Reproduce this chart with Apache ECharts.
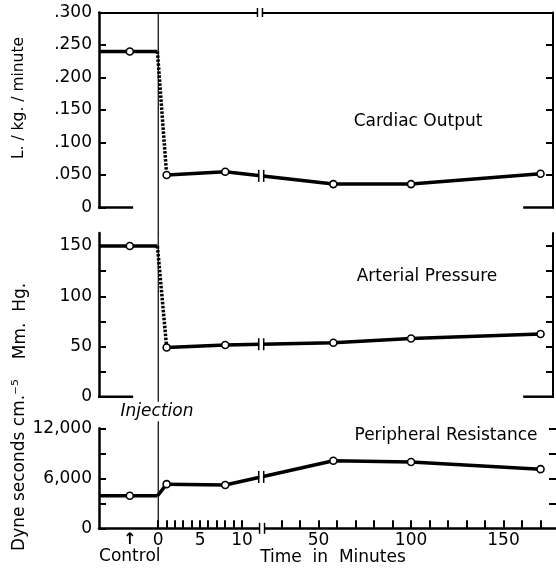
<!DOCTYPE html>
<html>
<head>
<meta charset="utf-8">
<title>Cardiac output, arterial pressure and peripheral resistance</title>
<script src="https://cdn.jsdelivr.net/npm/echarts@6.0.0/dist/echarts.min.js"></script>
<style>
    html, body { margin: 0; padding: 0; background: #fff; }
    #chart { width: 556px; height: 572px; }
</style>
</head>
<body>
<div id="chart"></div>
<script>
'use strict';

//============= data =============
const times = [1, 8, 58, 100, 170]; // minutes after injection
const cardiacControl = 0.240;
const cardiacOutput = [0.050, 0.055, 0.036, 0.036, 0.052];
const arterialControl = 150;
const arterialPressure = [49, 51.5, 53.7, 58, 62.4];
const resistanceControl = 3900;
const peripheralResistance = [5300, 5200, 8100, 7950, 7100];

const cardiacTicks = [0, 0.05, 0.1, 0.15, 0.2, 0.25, 0.3];
const pressureTicks = [0, 25, 50, 75, 100, 125, 150];
const pressureLabels = [0, 50, 100, 150];
const resistanceTicks = [0, 3000, 6000, 9000, 12000];
const resistanceLabels = [0, 6000, 12000];
const timeTicks = [0, 1, 2, 3, 4, 5, 6, 7, 8, 9, 10,
    30, 40, 50, 60, 70, 80, 90, 100, 110, 120, 130, 140, 150, 160, 170];
const timeLabels = [0, 5, 10, 50, 100, 150];

//============= broken time axis =============
// early part 1 unit = 1 min, after the break the scale is squeezed
const EARLY_END = 12.3,
    LATE_START = 19,
    LATE_RATIO = 0.221;

function toAxis(t) {
    return t <= EARLY_END ? t : EARLY_END + (t - LATE_START) * LATE_RATIO;
}

function fromAxis(u) {
    return u <= EARLY_END + 1e-9 ? u : LATE_START + (u - EARLY_END) / LATE_RATIO;
}

// layout
const LEFT = 99,
    PX_PER_UNIT = 8.37,
    X_MIN = -7.08,
    CONTROL_X = -3.4,
    CONTROL_END = -0.1,
    STUB_LEFT_END = -3.0,
    STUB_RIGHT_START = 43.6;

function xMax(width) {
    return X_MIN + width / PX_PER_UNIT;
}

const FONT = 'DejaVu Sans';
const black = '#000';

// value of a line where it crosses the axis break
function valueAtBreak(values) {
    for (let k = 0; k < times.length - 1; k++) {
        let u1 = toAxis(times[k]),
            u2 = toAxis(times[k + 1]);
        if (u1 <= EARLY_END && u2 > EARLY_END) {
            return values[k] + (values[k + 1] - values[k]) * (EARLY_END - u1) / (u2 - u1);
        }
    }
    return values[0];
}

function breakMark(gridIdx, point, h) {
    return {
        type: 'custom',
        xAxisIndex: gridIdx,
        yAxisIndex: gridIdx * 2,
        z: 10,
        silent: true,
        data: [point],
        renderItem: function(params, api) {
            let p = api.coord([api.value(0), api.value(1)]);
            return {
                type: 'group',
                children: [{
                    type: 'rect',
                    shape: { x: p[0] - 2, y: p[1] - h / 2 + 1, width: 4, height: h - 2 },
                    style: { fill: '#fff' }
                }, {
                    type: 'line',
                    shape: { x1: p[0] - 2.5, y1: p[1] - h / 2, x2: p[0] - 2.5, y2: p[1] + h / 2 },
                    style: { stroke: black, lineWidth: 1.5 }
                }, {
                    type: 'line',
                    shape: { x1: p[0] + 2.5, y1: p[1] - h / 2, x2: p[0] + 2.5, y2: p[1] + h / 2 },
                    style: { stroke: black, lineWidth: 1.5 }
                }]
            };
        }
    };
}

// short bits of the zero line at both ends of the upper panels
function zeroStubs(gridIdx, maxX) {
    return {
        type: 'custom',
        xAxisIndex: gridIdx,
        yAxisIndex: gridIdx * 2,
        silent: true,
        data: [[X_MIN, 0]],
        renderItem: function(params, api) {
            let a = api.coord([X_MIN, 0]),
                b = api.coord([STUB_LEFT_END, 0]),
                c = api.coord([STUB_RIGHT_START, 0]),
                d = api.coord([maxX, 0]);
            return {
                type: 'group',
                children: [{
                    type: 'line',
                    shape: { x1: a[0] - 1, y1: a[1], x2: b[0], y2: b[1] },
                    style: { stroke: black, lineWidth: 2.5 }
                }, {
                    type: 'line',
                    shape: { x1: c[0], y1: c[1], x2: d[0] + 1, y2: d[1] },
                    style: { stroke: black, lineWidth: 2.5 }
                }]
            };
        }
    };
}

// thin vertical line at time 0, one piece per panel
function injectionLine(gridIdx, topValue, extendTop, extendBottom) {
    return {
        type: 'custom',
        xAxisIndex: gridIdx,
        yAxisIndex: gridIdx * 2,
        silent: true,
        z: 1,
        data: [[0, topValue]],
        renderItem: function(params, api) {
            let top = api.coord([0, api.value(1)]),
                bottom = api.coord([0, 0]);
            return {
                type: 'line',
                shape: { x1: top[0], y1: top[1] - extendTop, x2: bottom[0], y2: bottom[1] + extendBottom },
                style: { stroke: black, lineWidth: 1.2 }
            };
        }
    };
}

// minute ticks on the time axis, pointing up from it (drawn as one group)
function timeTickSeries() {
    return {
        type: 'custom',
        xAxisIndex: 2,
        yAxisIndex: 4,
        silent: true,
        z: 12,
        data: [[0, 0]],
        renderItem: function(params, api) {
            let children = timeTicks.map(function(t) {
                let p = api.coord([toAxis(t), 0]);
                let x = Math.round(p[0]);
                return {
                    type: 'rect',
                    shape: { x: x - 1, y: p[1] - 8, width: 2, height: 8 },
                    style: { fill: black }
                };
            });
            return { type: 'group', children: children };
        }
    };
}

function panelSeries(gridIdx, control, values, dropType) {
    let base = {
        type: 'line',
        xAxisIndex: gridIdx,
        yAxisIndex: gridIdx * 2,
        silent: true,
        symbol: 'circle',
        symbolSize: 7,
        itemStyle: { color: '#fff', borderColor: black, borderWidth: 1.6 },
        lineStyle: { color: black, width: 3.5 }
    };
    return [
        Object.assign({}, base, {
            z: 3,
            data: [
                { value: [X_MIN, control], symbol: 'none' },
                [CONTROL_X, control],
                { value: [CONTROL_END, control], symbol: 'none' }
            ]
        }),
        Object.assign({}, base, {
            z: 2,
            symbol: 'none',
            lineStyle: { color: black, width: 3.5, type: dropType },
            data: [[CONTROL_END, control], [toAxis(times[0]), values[0]]]
        }),
        Object.assign({}, base, {
            z: 4,
            data: times.map((t, k) => [toAxis(t), values[k]])
        }),
        breakMark(gridIdx, [EARLY_END, valueAtBreak(values)], 12)
    ];
}

function yLeft(gridIdx, max, ticks, labels, fmt) {
    return {
        gridIndex: gridIdx,
        type: 'value',
        position: 'left',
        min: 0,
        max: max,
        axisLine: { show: true, onZero: false, lineStyle: { color: black, width: 2.5 } },
        axisTick: { show: true, inside: true, length: 7, customValues: ticks, lineStyle: { color: black, width: 2 } },
        axisLabel: { customValues: labels, formatter: fmt, color: black, fontSize: 17, fontFamily: FONT, margin: 7 },
        splitLine: { show: false }
    };
}

function yRight(gridIdx, max, ticks, showLine) {
    return {
        gridIndex: gridIdx,
        type: 'value',
        position: 'right',
        min: 0,
        max: max,
        axisLine: { show: showLine, onZero: false, lineStyle: { color: black, width: 2 } },
        axisTick: { show: true, inside: true, length: 7, customValues: ticks, lineStyle: { color: black, width: 2 } },
        axisLabel: { show: false },
        splitLine: { show: false }
    };
}

function text(str, x, y, extra) {
    return Object.assign({
        type: 'text',
        x: x,
        y: y,
        z: 20,
        silent: true,
        style: Object.assign({
            text: str,
            fill: black,
            fontSize: 17,
            fontFamily: FONT,
            align: 'center',
            verticalAlign: 'middle'
        }, extra && extra.style)
    }, extra && extra.el);
}

let chart = echarts.init(document.getElementById('chart'));

let option = {
    animation: false,
    backgroundColor: '#fff',
    grid: [
        { left: LEFT, top: 12.5, width: 454, height: 195 },
        { left: LEFT, top: 233, width: 454, height: 163.7 },
        { left: LEFT, top: 428.3, width: 457, height: 100 }
    ],
    xAxis: [{
        gridIndex: 0,
        type: 'value',
        position: 'top',
        min: X_MIN,
        max: xMax(454),
        axisLine: { show: true, onZero: false, lineStyle: { color: black, width: 2 } },
        axisTick: { show: false },
        axisLabel: { show: false },
        splitLine: { show: false }
    }, {
        gridIndex: 1,
        type: 'value',
        show: false,
        min: X_MIN,
        max: xMax(454)
    }, {
        gridIndex: 2,
        type: 'value',
        position: 'bottom',
        min: X_MIN,
        max: xMax(457),
        axisLine: { show: true, onZero: false, lineStyle: { color: black, width: 2.5 } },
        axisTick: { show: false },
        axisLabel: {
            customValues: timeLabels.map(toAxis).concat([CONTROL_X]),
            formatter: function(u) {
                if (Math.abs(u - CONTROL_X) < 1e-6) {
                    return '{arrow|↑}\n{ctl|Control}';
                }
                return String(Math.round(fromAxis(u)));
            },
            color: black,
            fontSize: 17,
            fontFamily: FONT,
            margin: 4,
            rich: {
                arrow: { fontSize: 16, fontWeight: 'bold', fontFamily: FONT, color: black, lineHeight: 15 },
                ctl: { fontSize: 17, fontFamily: FONT, color: black, lineHeight: 19 }
            }
        },
        splitLine: { show: false }
    }],
    yAxis: [
        yLeft(0, 0.3, cardiacTicks, cardiacTicks, function(v) {
            return v === 0 ? '0' : '.' + String(Math.round(v * 1000)).padStart(3, '0');
        }),
        yRight(0, 0.3, cardiacTicks.slice(1, -1), true),
        yLeft(1, 163, pressureTicks, pressureLabels, function(v) {
            return String(v);
        }),
        yRight(1, 163, pressureTicks.slice(1), true),
        yLeft(2, 12000, resistanceTicks, resistanceLabels, function(v) {
            return v.toLocaleString('en-US');
        }),
        yRight(2, 12000, resistanceTicks.slice(1), false)
    ],
    series: [].concat(
        panelSeries(0, cardiacControl, cardiacOutput, [2.5, 1.5]),
        panelSeries(1, arterialControl, arterialPressure, [2.5, 1.5]),
        panelSeries(2, resistanceControl, peripheralResistance, 'solid'),
        [
            zeroStubs(0, xMax(454)),
            zeroStubs(1, xMax(454)),
            injectionLine(0, 0.3, 0, 26),
            injectionLine(1, 163, 0, 5),
            injectionLine(2, 12000, 7, 0),
            timeTickSeries(),
            breakMark(0, [EARLY_END - 0.15, 0.3], 9),
            breakMark(2, [EARLY_END + 0.1, 0], 11)
        ]
    ),
    graphic: [
        text('Injection', 157, 412, { style: { fontStyle: 'italic' } }),
        text('Cardiac Output', 418, 122),
        text('Arterial Pressure', 427, 277),
        text('Peripheral Resistance', 446, 436),
        text('Time  in  Minutes', 333, 558),
        text('L. / kg. / minute', 19, 98, { el: { rotation: Math.PI / 2 }, style: { fontSize: 15.5 } }),
        text('Mm.  Hg.', 21, 321, { el: { rotation: Math.PI / 2 } }),
        text('Dyne seconds cm.⁻⁵', 20, 465, { el: { rotation: Math.PI / 2 } })
    ]
};

chart.setOption(option);
</script>
</body>
</html>
